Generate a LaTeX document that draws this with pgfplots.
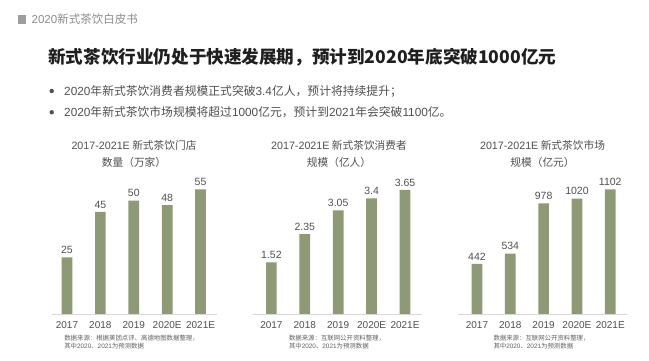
\documentclass[border=0pt]{standalone}
\usepackage{fontspec}
\setmainfont{Noto Sans CJK SC}
\newfontfamily\lat{Liberation Sans}
\usepackage{pgfplots}
\pgfplotsset{compat=1.18}
\definecolor{barc}{RGB}{142,154,118}
\definecolor{txt}{RGB}{80,80,80}
\definecolor{hdr}{RGB}{140,140,140}
\definecolor{axl}{RGB}{215,215,215}
\newcommand{\LS}[1]{{\lat #1}}
\pgfplotsset{
  teabar/.style={
    scale only axis, height=140pt, ymin=0,
    anchor=south west, clip=false,
    hide y axis, axis x line*=bottom,
    x axis line style={axl, line width=0.6pt},
    xtick=data, xtick style={draw=none},
    xticklabels={2017,2018,2019,2020E,2021E},
    xticklabel style={font=\lat\fontsize{10}{12}\selectfont, text=txt},
    ybar, bar width=10.7pt,
    nodes near coords={\pgfmathprintnumber[assume math mode=true,1000 sep={}]{\pgfplotspointmeta}},
    every node near coord/.append style={font=\lat\fontsize{10.5}{12}\selectfont, text=txt},
  }
}
\begin{document}
\begin{tikzpicture}
\path[fill=white] (0pt,0pt) rectangle (649pt,361pt);
% header
\fill[hdr!85!white] (18pt,337pt) rectangle (26pt,346pt);
\node[anchor=west, inner sep=0, text=hdr, font=\fontsize{11.5}{13}\selectfont] at (31.5pt,342pt) {\LS{2020}新式茶饮白皮书};
% title
\node[anchor=west, inner sep=0, text=black!88, font=\fontsize{17.6}{20}\selectfont\bfseries] at (48pt,303.5pt) {新式茶饮行业仍处于快速发展期，预计到2020年底突破1000亿元};
% bullets
\fill[txt] (51.7pt,270pt) circle (2.2pt);
\fill[txt] (51.7pt,248.7pt) circle (2.2pt);
\node[anchor=west, inner sep=0, text=txt, font=\fontsize{11.8}{13}\selectfont] at (64pt,270pt) {\LS{2020}年新式茶饮消费者规模正式突破\LS{3.4}亿人，预计将持续提升；};
\node[anchor=west, inner sep=0, text=txt, font=\fontsize{11.8}{13}\selectfont] at (64pt,248.7pt) {\LS{2020}年新式茶饮市场规模将超过\LS{1000}亿元，预计到\LS{2021}年会突破\LS{1100}亿。};
% chart titles
\begin{scope}[every node/.style={inner sep=0, text=txt, font=\fontsize{10.7}{12}\selectfont}]
\node at (134pt,215.3pt) {\LS{2017-2021E} 新式茶饮门店};
\node at (134pt,198.7pt) {数量（万家）};
\node at (339pt,215.3pt) {\LS{2017-2021E} 新式茶饮消费者};
\node at (339pt,198.7pt) {规模（亿人）};
\node at (542.5pt,215.3pt) {\LS{2017-2021E} 新式茶饮市场};
\node at (542.5pt,198.7pt) {规模（亿元）};
\end{scope}
% sources
\begin{scope}[every node/.style={inner sep=0, text=txt!90!white, align=left, font=\fontsize{6.4}{7.7}\selectfont}]
\node at (131.5pt,18.8pt) {数据来源：根据美团点评、高德地图数据整理，\\其中\LS{2020}、\LS{2021}为预测数据};
\node at (337pt,18.8pt) {数据来源：互联网公开资料整理，\\其中\LS{2020}、\LS{2021}为预测数据};
\node at (541.5pt,18.8pt) {数据来源：互联网公开资料整理，\\其中\LS{2020}、\LS{2021}为预测数据};
\end{scope}
% charts
\begin{axis}[teabar, at={(51.6pt,47pt)}, width=165pt, xmin=-0.46, xmax=4.48, ymax=61.75]
\addplot[fill=barc, draw=none] coordinates {(0,25) (1,45) (2,50) (3,48) (4,55)};
\end{axis}
\begin{axis}[teabar, at={(253pt,47pt)}, width=168.7pt, xmin=-0.55, xmax=4.5, ymax=4.121]
\addplot[fill=barc, draw=none] coordinates {(0,1.52) (1,2.35) (2,3.05) (3,3.4) (4,3.65)};
\end{axis}
\begin{axis}[teabar, at={(458pt,47pt)}, width=168.9pt, xmin=-0.57, xmax=4.5, ymax=1237.2]
\addplot[fill=barc, draw=none] coordinates {(0,442) (1,534) (2,978) (3,1020) (4,1102)};
\end{axis}
\end{tikzpicture}
\end{document}
